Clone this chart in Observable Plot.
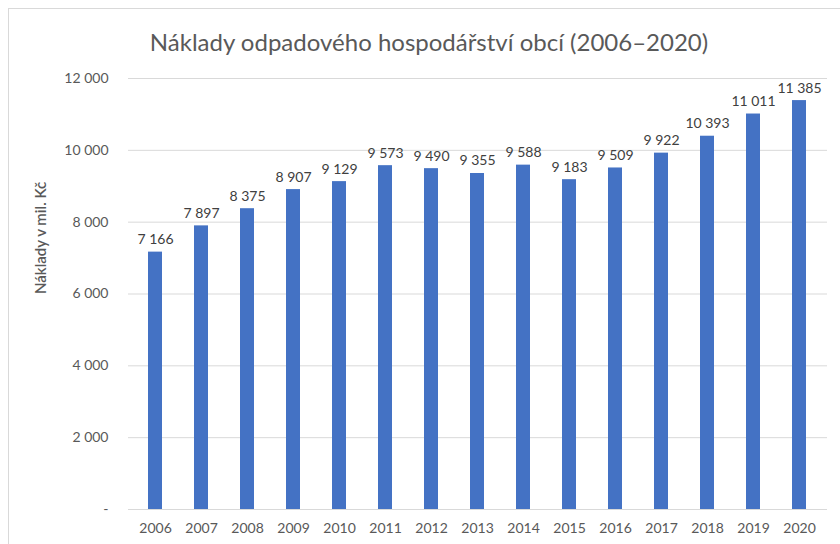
<!DOCTYPE html>
<html>
<head>
<meta charset="utf-8">
<script src="https://cdn.jsdelivr.net/npm/d3@7"></script>
<script src="https://cdn.jsdelivr.net/npm/@observablehq/plot@0.6"></script>
<style>
  html, body { margin: 0; padding: 0; background: #fff; }
  body { width: 840px; height: 544px; overflow: hidden; position: relative; font-family: Lato, "Open Sans", sans-serif; }
  #frame { position: absolute; left: 8px; top: 8px; width: 900px; height: 600px; border: 1px solid #d9d9d9; box-sizing: border-box; pointer-events: none; }
  #title { position: absolute; left: 0; top: 0; width: 840px; height: 60px; text-align: center; line-height: 84px; font-size: 24px; color: #595959; padding-left: 18px; box-sizing: border-box; }
  #chart { position: absolute; left: 0; top: 60px; }
</style>
</head>
<body>
<div id="frame"></div>
<div id="title">Náklady odpadového hospodářství obcí (2006–2020)</div>
<div id="chart"></div>
<script>
const years = ["2006","2007","2008","2009","2010","2011","2012","2013","2014","2015","2016","2017","2018","2019","2020"];
const costs = [7166, 7897, 8375, 8907, 9129, 9573, 9490, 9355, 9588, 9183, 9509, 9922, 10393, 11011, 11385];
const yTicks = [0, 2000, 4000, 6000, 8000, 10000, 12000];
const yLabel = "Náklady v mil. Kč";

const loc = d3.formatLocale({decimal: ",", thousands: " ", grouping: [3], currency: ["", " Kč"]});
const fmt = loc.format(",d");
const tickFmt = d => d === 0 ? "-" : fmt(d);

const data = years.map((y, i) => ({year: y, value: costs[i]}));

const plot = Plot.plot({
  width: 840,
  height: 484,
  marginLeft: 128,
  marginRight: 13,
  marginTop: 18,
  marginBottom: 35,
  style: {fontFamily: "Lato, 'Open Sans', sans-serif", fontSize: "14px", color: "#595959", background: "transparent"},
  x: {domain: years, paddingInner: 0.69, paddingOuter: 0.345, label: null},
  y: {domain: [0, 12000], label: null},
  marks: [
    Plot.gridY(yTicks, {stroke: "#d9d9d9", strokeOpacity: 1, strokeWidth: 1}),
    Plot.barY(data, {x: "year", y: "value", fill: "#4472C4"}),
    Plot.text(data, {x: "year", y: "value", text: d => fmt(d.value), dy: -8, lineAnchor: "bottom", fill: "#404040", fontSize: 14}),
    Plot.axisY(yTicks, {tickSize: 0, tickPadding: 20, tickFormat: tickFmt, fill: "#595959", fontSize: 14, label: null}),
    Plot.axisX({tickSize: 0, tickPadding: 14, fill: "#595959", fontSize: 14, label: null}),
    Plot.text([yLabel], {frameAnchor: "left", dx: -87, dy: 0, rotate: -90, fill: "#595959", fontSize: 15, fontWeight: 600, text: d => d})
  ]
});
document.getElementById("chart").appendChild(plot);
</script>
</body>
</html>
